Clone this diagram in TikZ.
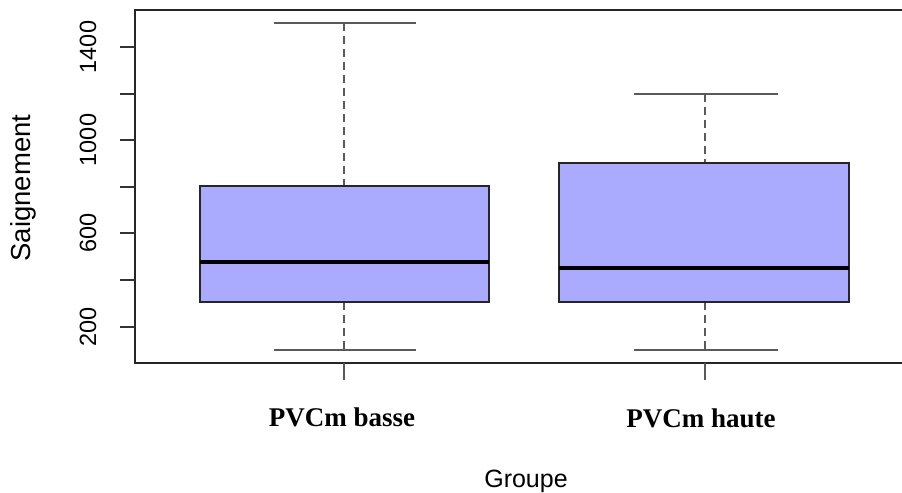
\documentclass[tikz,border=0pt]{standalone}
\usepackage{fontspec}
\setmainfont{Liberation Sans}
\newfontfamily\timesf{Liberation Serif}
\definecolor{boxfill}{HTML}{AAAAFF}
\definecolor{capgray}{HTML}{5A5A5A}
\begin{document}
\begin{tikzpicture}[x=1bp,y=-1bp,
  frame/.style={line width=1.6bp,draw=black!85},
  boxst/.style={fill=boxfill,draw=black!85,line width=1.6bp},
  med/.style={line width=4.5bp,black},
  whisk/.style={line width=1.8bp,draw=capgray,dash pattern=on 8bp off 5bp},
  capst/.style={line width=2.2bp,draw=capgray},
  tickst/.style={line width=1.6bp,draw=black!80},
  ticklab/.style={font=\fontsize{23.5bp}{26bp}\selectfont,rotate=90,anchor=center},
  grplab/.style={font=\timesf\bfseries\fontsize{27bp}{29bp}\selectfont,anchor=base},
  axlab/.style={font=\fontsize{25bp}{28bp}\selectfont}]
\useasboundingbox (0,0) rectangle (902,493);
% frame
\draw[frame] (902,10) -- (135,10) -- (135,363) -- (902,363);
% y ticks
\foreach \v/\yy in {200/327,400/280,600/233,800/187,1000/140,1200/94,1400/47}{
  \draw[tickst] (120,\yy) -- (135,\yy);
}
\foreach \v/\yy in {200/327,600/233,1000/140,1400/47}{
  \node[ticklab] (yl\v) at (88,\yy) {\v};
}
% x ticks
\draw[tickst,draw=capgray] (344,363) -- (344,380);
\draw[tickst,draw=capgray] (705,363) -- (705,380);
% group 1
\draw[whisk] (344,23) -- (344,186);
\draw[whisk] (344,302) -- (344,350);
\draw[capst] (274,23) -- (416,23);
\draw[capst] (274,350) -- (416,350);
\draw[boxst] (200,186) rectangle (489,302);
\draw[med] (200,262) -- (489,262);
% group 2
\draw[whisk] (705,94) -- (705,163);
\draw[whisk] (705,302) -- (705,350);
\draw[capst] (634,94) -- (778,94);
\draw[capst] (634,350) -- (778,350);
\draw[boxst] (559,163) rectangle (849,302);
\draw[med] (559,268) -- (849,268);
% labels
\node[grplab] (g1) at (342,426) {PVCm basse};
\node[grplab] (g2) at (701,427) {PVCm haute};
\node[axlab,anchor=base] (xl) at (526,487) {Groupe};
\node[axlab,font=\fontsize{27.5bp}{30bp}\selectfont,rotate=90] (yl) at (23,188) {Saignement};
\end{tikzpicture}
\end{document}
